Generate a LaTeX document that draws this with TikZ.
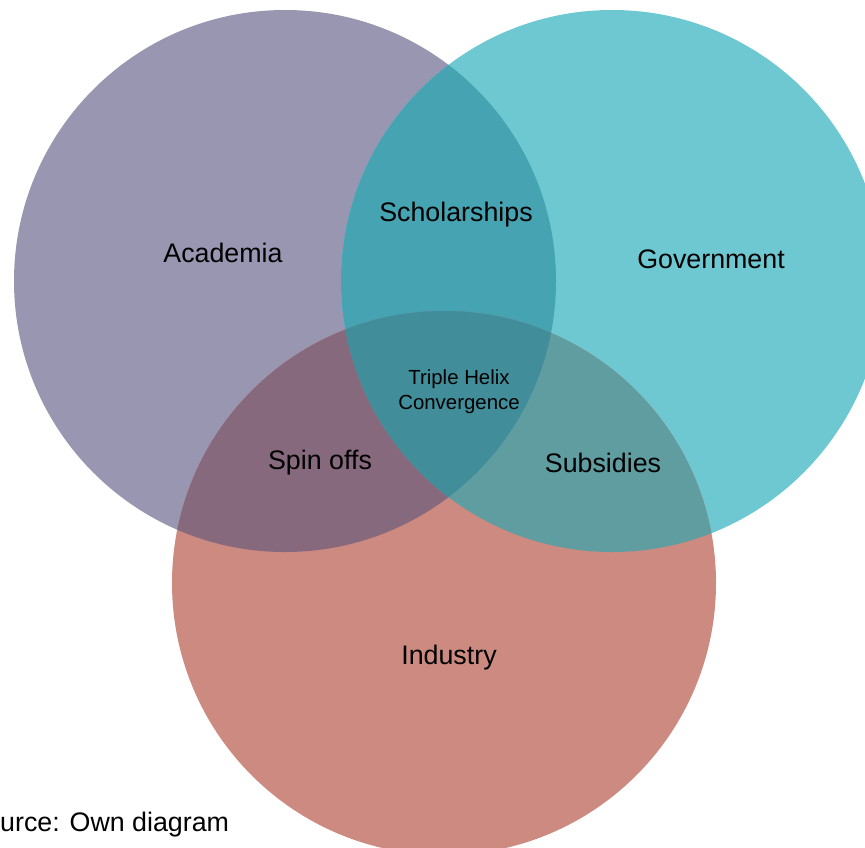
\documentclass[tikz,border=0pt]{standalone}
\usepackage{fontspec}
\setmainfont{Liberation Sans}
\definecolor{cA}{RGB}{153,150,177}
\definecolor{cG}{RGB}{110,200,209}
\definecolor{cI}{RGB}{204,138,128}
\definecolor{cAG}{RGB}{69,163,178}
\definecolor{cAI}{RGB}{134,105,125}
\definecolor{cGI}{RGB}{95,157,160}
\definecolor{cAGI}{RGB}{65,141,154}
\tikzset{
  big/.style={font=\fontsize{26.8}{30}\selectfont, text=black, inner sep=0pt},
  small/.style={font=\fontsize{20.4}{25}\selectfont, text=black, inner sep=0pt, align=center},
}
\begin{document}
\begin{tikzpicture}[x=1pt,y=-1pt]
\useasboundingbox (0,0) rectangle (865,847);
\clip (0,0) rectangle (865,847);
\def\circA{(285,281) circle (271)}
\def\circG{(612,281) circle (271)}
\def\circI{(444,583) circle (272)}
\fill[cA] \circA;
\fill[cG] \circG;
\fill[cI] \circI;
\begin{scope}\clip \circA; \fill[cAG] \circG; \fill[cAI] \circI; \end{scope}
\begin{scope}\clip \circG; \fill[cGI] \circI; \end{scope}
\begin{scope}\clip \circA; \clip \circG; \fill[cAGI] \circI; \end{scope}
\node[big] (aca) at (223,253) {Academia};
\node[big] (gov) at (711,259) {Government};
\node[big] (ind) at (449,658) {Industry};
\node[big] (sch) at (456,215) {Scholarships};
\node[big] (spi) at (320,463) {Spin offs};
\node[big] (sub) at (603,463) {Subsidies};
\node[small] (thc) at (459,392) {Triple Helix\\Convergence};
\node[big, anchor=west] (src) at (0,825) {urce: Own diagram};
\end{tikzpicture}
\end{document}
